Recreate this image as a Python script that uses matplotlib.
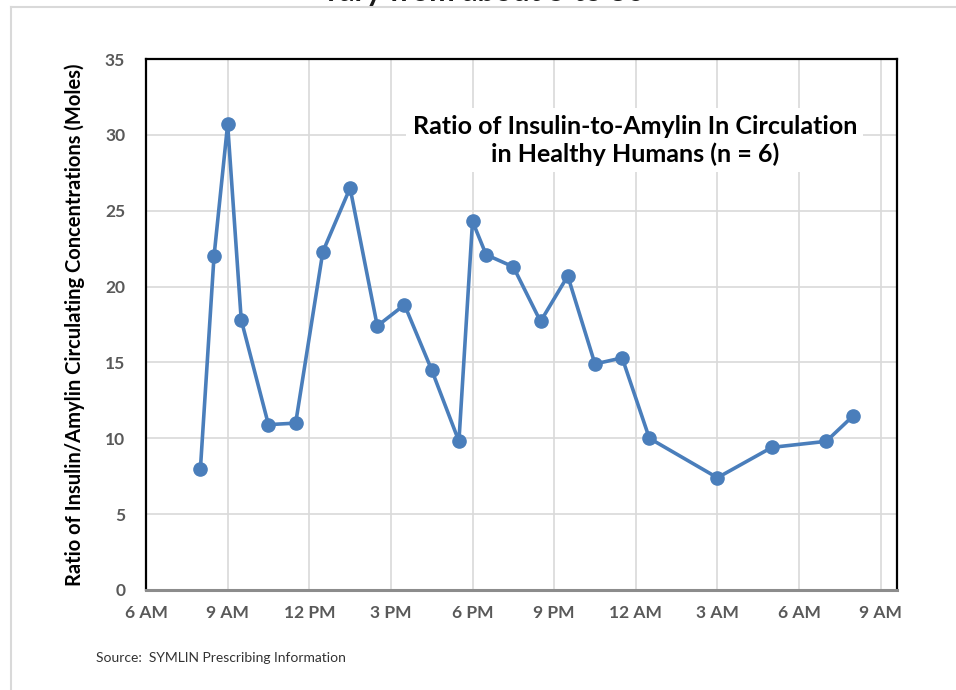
import matplotlib.pyplot as plt
from matplotlib.lines import Line2D

# hours after midnight of day 1 (24+ = next day)
hours = [8, 8.5, 9, 9.5, 10.5, 11.5, 12.5, 13.5, 14.5, 15.5, 16.5, 17.5,
         18, 18.5, 19.5, 20.5, 21.5, 22.5, 23.5, 24.5, 27, 29, 31, 32]
ratio = [8.0, 22.0, 30.7, 17.8, 10.9, 11.0, 22.3, 26.5, 17.4, 18.8, 14.5, 9.8,
         24.3, 22.1, 21.3, 17.7, 20.7, 14.9, 15.3, 10.0, 7.4, 9.4, 9.8, 11.5]

tick_hours = [6, 9, 12, 15, 18, 21, 24, 27, 30, 33]
tick_labels = ["6 AM", "9 AM", "12 PM", "3 PM", "6 PM", "9 PM",
               "12 AM", "3 AM", "6 AM", "9 AM"]
y_ticks = [0, 5, 10, 15, 20, 25, 30, 35]

plt.rcParams['font.family'] = ['Lato', 'DejaVu Sans']

fig = plt.figure(figsize=(9.56, 6.9), dpi=100)
ax = fig.add_axes([146 / 956, 100 / 690, 751 / 956, 531 / 690])

ax.plot(hours, ratio, color="#4a7ebb", lw=2.6, marker="o", ms=9.5,
        zorder=3, clip_on=False)

ax.set_xlim(6, 33.6)
ax.set_ylim(0, 35)
ax.set_xticks(tick_hours)
ax.set_xticklabels(tick_labels)
ax.set_yticks(y_ticks)
ax.grid(True, color="#d9d9d9", lw=1.2, zorder=0)
ax.set_axisbelow(True)
ax.tick_params(length=0, labelsize=12.5, labelcolor="#595959")
ax.tick_params(axis="x", pad=11)
ax.tick_params(axis="y", pad=15)
for lab in ax.get_xticklabels() + ax.get_yticklabels():
    lab.set_fontweight("bold")

for side in ["left", "top", "right"]:
    ax.spines[side].set_color("black")
    ax.spines[side].set_linewidth(1.6)
ax.spines["bottom"].set_color("#8c8c8c")
ax.spines["bottom"].set_linewidth(2.2)

ax.set_ylabel("Ratio of Insulin/Amylin Circulating Concentrations (Moles)",
              fontsize=14.5, fontweight="bold", color="black", labelpad=14)

ax.text(0.651, 0.847,
        "Ratio of Insulin-to-Amylin In Circulation\nin Healthy Humans (n = 6)",
        transform=ax.transAxes, ha="center", va="center", fontsize=18,
        fontweight="bold", color="black", linespacing=1.25, zorder=4,
        bbox=dict(boxstyle="square,pad=0.25", fc="white", ec="none"))

# outer frame lines of the slide chart
fig.add_artist(Line2D([11 / 956, 1], [1 - 7 / 690, 1 - 7 / 690],
                      color="#d9d9d9", lw=1.5))
fig.add_artist(Line2D([11 / 956, 11 / 956], [0, 1 - 7 / 690],
                      color="#d9d9d9", lw=1.5))

# cut-off slide heading at the very top
fig.text(484 / 956, 1 - 0.5 / 690, "vary from about 5 to 30", ha="center",
         va="baseline", fontsize=22, fontweight="bold", color="#1a1a1a")

fig.text(96 / 956, 1 - 658 / 690, "Source:  SYMLIN Prescribing Information",
         ha="left", va="center", fontsize=10, color="#333333")

fig.savefig("out.png", dpi=100)
